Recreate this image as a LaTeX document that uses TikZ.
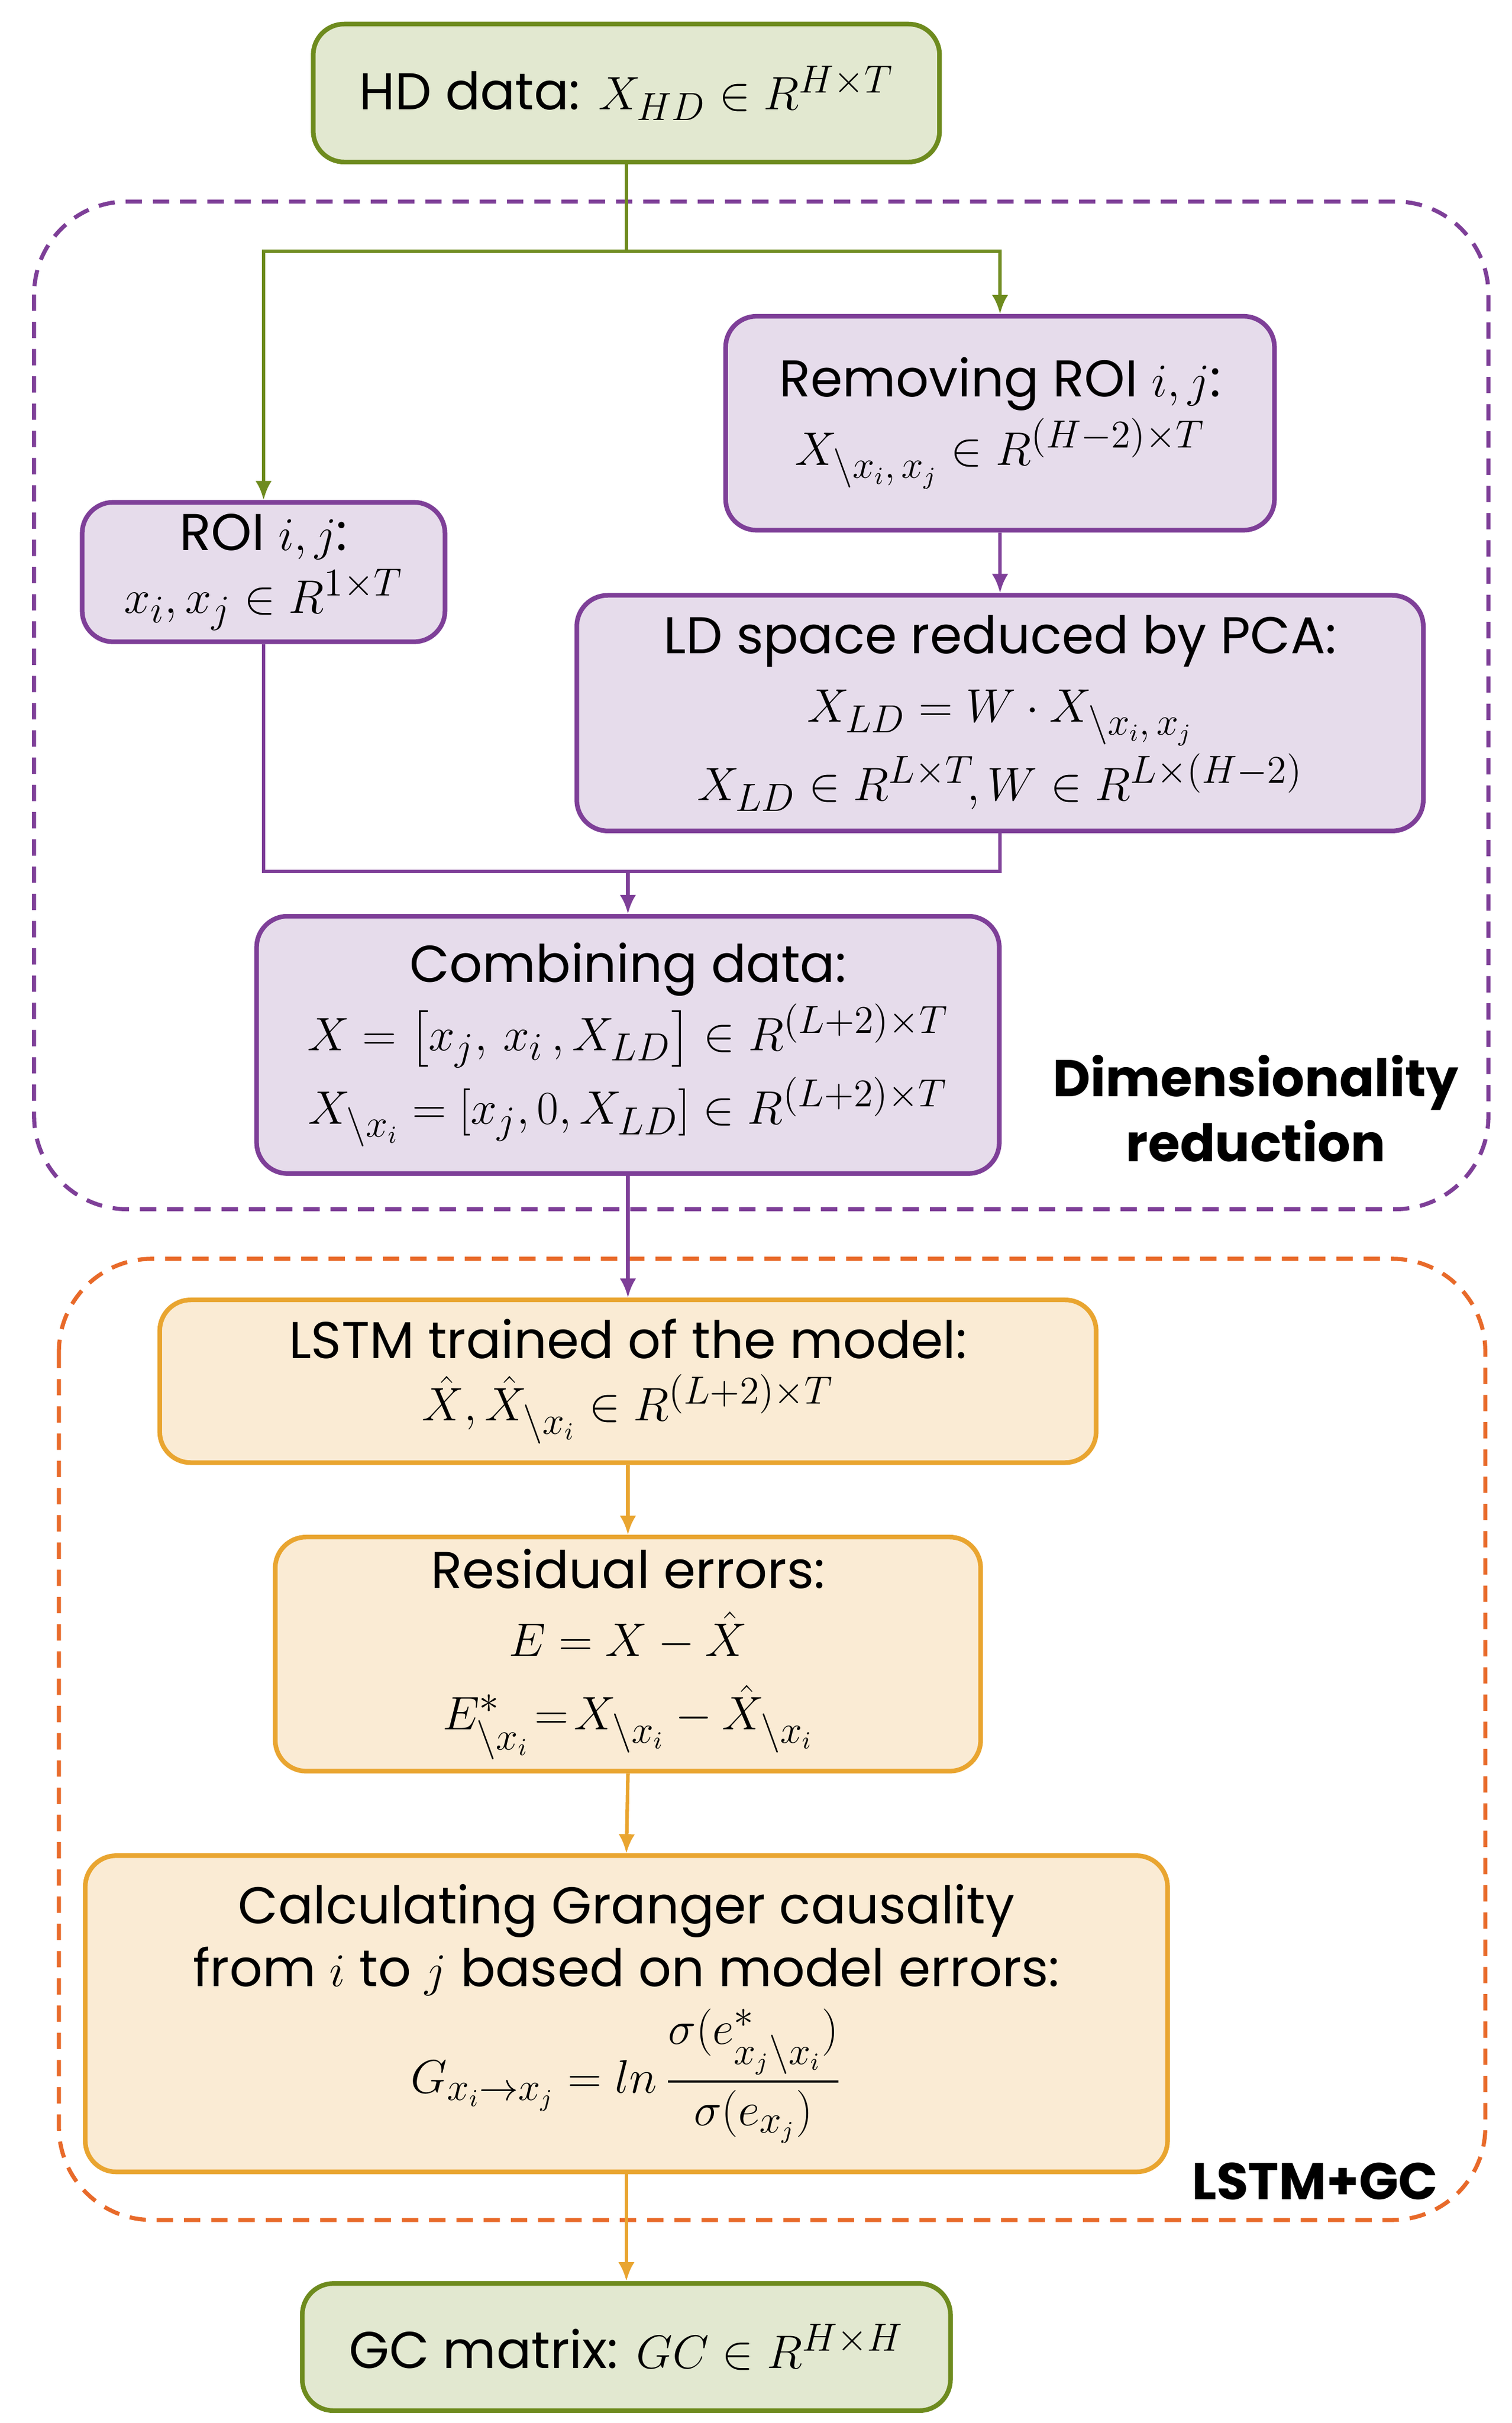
\documentclass[tikz,border=0pt]{standalone}
\usepackage{amsmath}
\usepackage{fontspec}
\setmainfont{Poppins}
\usetikzlibrary{arrows.meta,calc}
\definecolor{gfill}{HTML}{E2E8D0}
\definecolor{gline}{HTML}{6E8B1E}
\definecolor{pfill}{HTML}{E6DCEB}
\definecolor{pline}{HTML}{7E3F98}
\definecolor{ofill}{HTML}{FAEBD4}
\definecolor{oline}{HTML}{E9A530}
\definecolor{odash}{HTML}{E86A2A}
\begin{document}
\begin{tikzpicture}[x=0.02cm,y=-0.02cm,
  box/.style={draw,line width=1.7pt,rounded corners=0.4cm,align=center,inner sep=0pt,font=\fontsize{19}{25}\selectfont},
  gbox/.style={box,draw=gline,fill=gfill},
  pbox/.style={box,draw=pline,fill=pfill},
  obox/.style={box,draw=oline,fill=ofill},
  garr/.style={draw=gline,line width=1.3pt,-{Latex[length=7pt,width=6pt]}},
  parr/.style={draw=pline,line width=1.3pt,-{Latex[length=7pt,width=6pt]}},
  oarr/.style={draw=oline,line width=1.3pt,-{Latex[length=7pt,width=6pt]}},
  lab/.style={font=\fontsize{19}{24}\selectfont\bfseries,align=center}]
\useasboundingbox (0,0) rectangle (975,1563);
% regions
\draw[pline,line width=1.5pt,dash pattern=on 6pt off 4pt,rounded corners=1.2cm] (22,130) rectangle (960,780);
\draw[odash,line width=1.5pt,dash pattern=on 6pt off 4pt,rounded corners=1.2cm] (38,812) rectangle (958,1432);
% nodes
\node[gbox,minimum width=404*0.02cm,minimum height=89*0.02cm] (hd) at (404,60) {HD data: $X_{HD}\in R^{H\times T}$};
\node[pbox,minimum width=354*0.02cm,minimum height=138*0.02cm] (rem) at (645,273) {Removing ROI $i,j$:\\[0pt]$X_{\backslash x_i,\,x_j}\in R^{(H-2)\times T}$};
\node[pbox,minimum width=234*0.02cm,minimum height=90*0.02cm] (roi) at (170,369) {ROI $i,j$:\\[-2pt]$x_i,x_j\in R^{1\times T}$};
\node[pbox,minimum width=546*0.02cm,minimum height=152*0.02cm] (ld) at (645,460) {LD space reduced by PCA:\\[0pt]$X_{LD}=W\cdot X_{\backslash x_i,\,x_j}$\\[2pt]$X_{LD}\in R^{L\times T}\!,W\in R^{L\times(H-2)}$};
\node[pbox,minimum width=479*0.02cm,minimum height=166*0.02cm] (comb) at (405,674) {Combining data:\\[0pt]$X=\bigl[x_j,\,x_i\,,X_{LD}\bigr]\in R^{(L+2)\times T}$\\[2pt]$X_{\backslash x_i}=[x_j,0,X_{LD}]\in R^{(L+2)\times T}$};
\node[lab] (dimlab) at (810,715) {Dimensionality\\reduction};
\node[obox,minimum width=604*0.02cm,minimum height=105*0.02cm] (lstm) at (405,891) {LSTM trained of the model:\\[-2pt]$\hat X,\hat X_{\backslash x_i}\in R^{(L+2)\times T}$};
\node[obox,minimum width=455*0.02cm,minimum height=151*0.02cm] (res) at (405,1067) {Residual errors:\\[0pt]$E=X-\hat X$\\[2pt]$E^*_{\backslash x_i}\!=\!X_{\backslash x_i}-\hat X_{\backslash x_i}$};
\node[obox,minimum width=698*0.02cm,minimum height=204*0.02cm] (gc) at (404,1299) {Calculating Granger causality\\[-2pt]from $i$ to $j$ based on model errors:\\[4pt]$G_{x_i\to x_j}=ln\,\dfrac{\sigma(e^*_{x_j\backslash x_i})}{\sigma(e_{x_j})}$};
\node[lab] (gclab) at (848,1407) {LSTM+GC};
\node[gbox,minimum width=418*0.02cm,minimum height=82*0.02cm] (mat) at (404,1514) {GC matrix: $GC\in R^{H\times H}$};
% connectors
\coordinate (split) at (404,162);
\draw[draw=gline,line width=1.3pt] (hd.south) -- (split);
\draw[garr] (split) -| (roi.north);
\draw[garr] (split) -| (rem.north);
\draw[parr] (rem.south) -- (ld.north);
\coordinate (join) at (405,562);
\draw[draw=pline,line width=1.3pt] (roi.south) |- (join);
\draw[draw=pline,line width=1.3pt] (ld.south) |- (join);
\draw[parr] (join) -- (comb.north);
\draw[parr] (comb.south) -- (lstm.north);
\draw[oarr] (lstm.south) -- (res.north);
\draw[oarr] (res.south) -- (gc.north);
\draw[oarr] (gc.south) -- (mat.north);
\end{tikzpicture}
\end{document}
